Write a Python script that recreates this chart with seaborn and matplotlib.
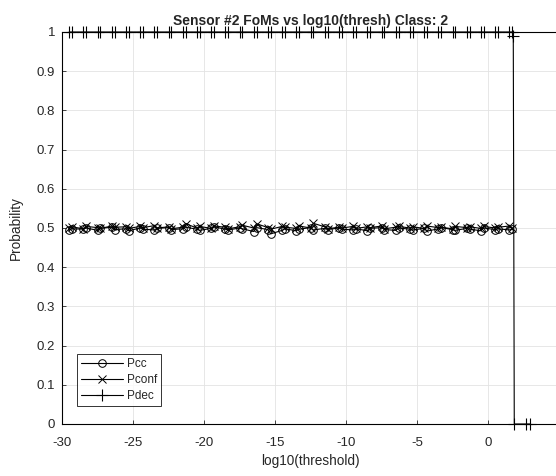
import matplotlib
matplotlib.use("Agg")
import matplotlib.pyplot as plt
import seaborn as sns
import pandas as pd

sns.set_theme(style="white")
plt.rcParams['font.family'] = ['Liberation Sans', 'DejaVu Sans']
plt.rcParams['axes.unicode_minus'] = False

# threshold grid (log10)
x_grid = [
    -29.5, -29.3, -28.5, -28.3, -27.5, -27.3, -26.5, -26.3,
    -25.5, -25.3, -24.5, -24.3, -23.5, -23.3, -22.5, -22.3,
    -21.5, -21.3, -20.5, -20.3, -19.5, -19.3, -18.5, -18.3,
    -17.5, -17.3, -16.5, -16.3, -15.5, -15.3, -14.5, -14.3,
    -13.5, -13.3, -12.5, -12.3, -11.5, -11.3, -10.5, -10.3,
    -9.5, -9.3, -8.5, -8.3, -7.5, -7.3, -6.5, -6.3,
    -5.5, -5.3, -4.5, -4.3, -3.5, -3.3, -2.5, -2.3,
    -1.5, -1.3, -0.5, -0.3, 0.5, 0.7, 1.5, 1.7,
]
pcc = [
    0.495, 0.498, 0.497, 0.500, 0.494, 0.499, 0.502, 0.496,
    0.498, 0.493, 0.500, 0.497, 0.495, 0.499, 0.501, 0.496,
    0.498, 0.502, 0.497, 0.494, 0.499, 0.503, 0.497, 0.495,
    0.500, 0.498, 0.491, 0.501, 0.496, 0.485, 0.494, 0.498,
    0.493, 0.497, 0.501, 0.495, 0.499, 0.496, 0.500, 0.497,
    0.495, 0.498, 0.493, 0.499, 0.501, 0.496, 0.494, 0.500,
    0.497, 0.495, 0.499, 0.492, 0.498, 0.501, 0.496, 0.494,
    0.499, 0.497, 0.493, 0.500, 0.496, 0.498, 0.495, 0.497,
]
pconf = [
    0.500, 0.503, 0.498, 0.504, 0.501, 0.499, 0.505, 0.502,
    0.503, 0.499, 0.504, 0.501, 0.506, 0.500, 0.503, 0.498,
    0.502, 0.511, 0.500, 0.504, 0.499, 0.505, 0.502, 0.498,
    0.503, 0.507, 0.500, 0.511, 0.501, 0.497, 0.504, 0.502,
    0.499, 0.505, 0.500, 0.512, 0.503, 0.498, 0.502, 0.500,
    0.504, 0.499, 0.503, 0.501, 0.505, 0.498, 0.502, 0.504,
    0.500, 0.503, 0.499, 0.505, 0.501, 0.502, 0.498, 0.504,
    0.501, 0.503, 0.499, 0.504, 0.500, 0.502, 0.505, 0.500,
]
x_dec = x_grid + [1.78, 1.85, 2.65, 2.95]
pdec = [
    1.0, 1.0, 1.0, 1.0, 1.0, 1.0, 1.0, 1.0,
    1.0, 1.0, 1.0, 1.0, 1.0, 1.0, 1.0, 1.0,
    1.0, 1.0, 1.0, 1.0, 1.0, 1.0, 1.0, 1.0,
    1.0, 1.0, 1.0, 1.0, 1.0, 1.0, 1.0, 1.0,
    1.0, 1.0, 1.0, 1.0, 1.0, 1.0, 1.0, 1.0,
    1.0, 1.0, 1.0, 1.0, 1.0, 1.0, 1.0, 1.0,
    1.0, 1.0, 1.0, 1.0, 1.0, 1.0, 1.0, 1.0,
    1.0, 1.0, 1.0, 1.0, 1.0, 1.0, 1.0, 1.0,
    0.99, 0.0, 0.0, 0.0,
]

x_ticks = [-30, -25, -20, -15, -10, -5, 0, 5]
y_ticks = [0, 0.1, 0.2, 0.3, 0.4, 0.5, 0.6, 0.7, 0.8, 0.9, 1]
y_labels = ["0", "0.1", "0.2", "0.3", "0.4", "0.5", "0.6", "0.7", "0.8", "0.9", "1"]

df_main = pd.DataFrame({"x": x_grid, "Pcc": pcc, "Pconf": pconf})
df_dec = pd.DataFrame({"x": x_dec, "Pdec": pdec})

fig = plt.figure(figsize=(5.56, 4.76), dpi=100)
ax = fig.add_axes([62/556, 52/476, 497/556, 392/476])

lw = 0.8
sns.lineplot(data=df_main, x="x", y="Pcc", ax=ax, color="black", lw=lw,
             marker="o", markersize=5.5, markerfacecolor="none",
             markeredgecolor="black", markeredgewidth=0.7,
             sort=False, estimator=None, label="Pcc")
sns.lineplot(data=df_main, x="x", y="Pconf", ax=ax, color="black", lw=lw,
             marker="x", markersize=5.5, markeredgecolor="black",
             markeredgewidth=0.7, sort=False, estimator=None, label="Pconf")
sns.lineplot(data=df_dec, x="x", y="Pdec", ax=ax, color="black", lw=lw,
             marker="+", markersize=8, markeredgecolor="black",
             markeredgewidth=0.8, sort=False, estimator=None, label="Pdec",
             clip_on=False)

ax.set_xlim(-30, 5)
ax.set_ylim(0, 1)
ax.set_xticks(x_ticks)
ax.set_yticks(y_ticks)
ax.set_yticklabels(y_labels)
ax.grid(True, color="#e3e3e3", lw=0.6)
ax.tick_params(direction="in", length=3, width=0.6, colors="#262626",
               labelsize=9.5, top=False, right=False, bottom=True, left=True)
ax.tick_params(axis="x", pad=9)
ax.tick_params(axis="y", pad=5)
for sp in ax.spines.values():
    sp.set_color("black")
    sp.set_linewidth(0.8)

ax.set_xlabel("log10(threshold)", fontsize=9.8, labelpad=4, color="#262626")
ax.set_ylabel("Probability", fontsize=9.8, labelpad=10, color="#262626")
ax.set_title("Sensor #2 FoMs vs log10(thresh) Class: 2", fontsize=10,
             fontweight="bold", pad=5)

leg = ax.legend(loc="lower left", bbox_to_anchor=(0.018, 0.03), fontsize=8.5,
                frameon=True, fancybox=False, edgecolor="black",
                handlelength=3.6, handletextpad=0.3, borderpad=0.35,
                labelspacing=0.35)
leg.get_frame().set_linewidth(0.7)

fig.savefig("out.png", dpi=100)
